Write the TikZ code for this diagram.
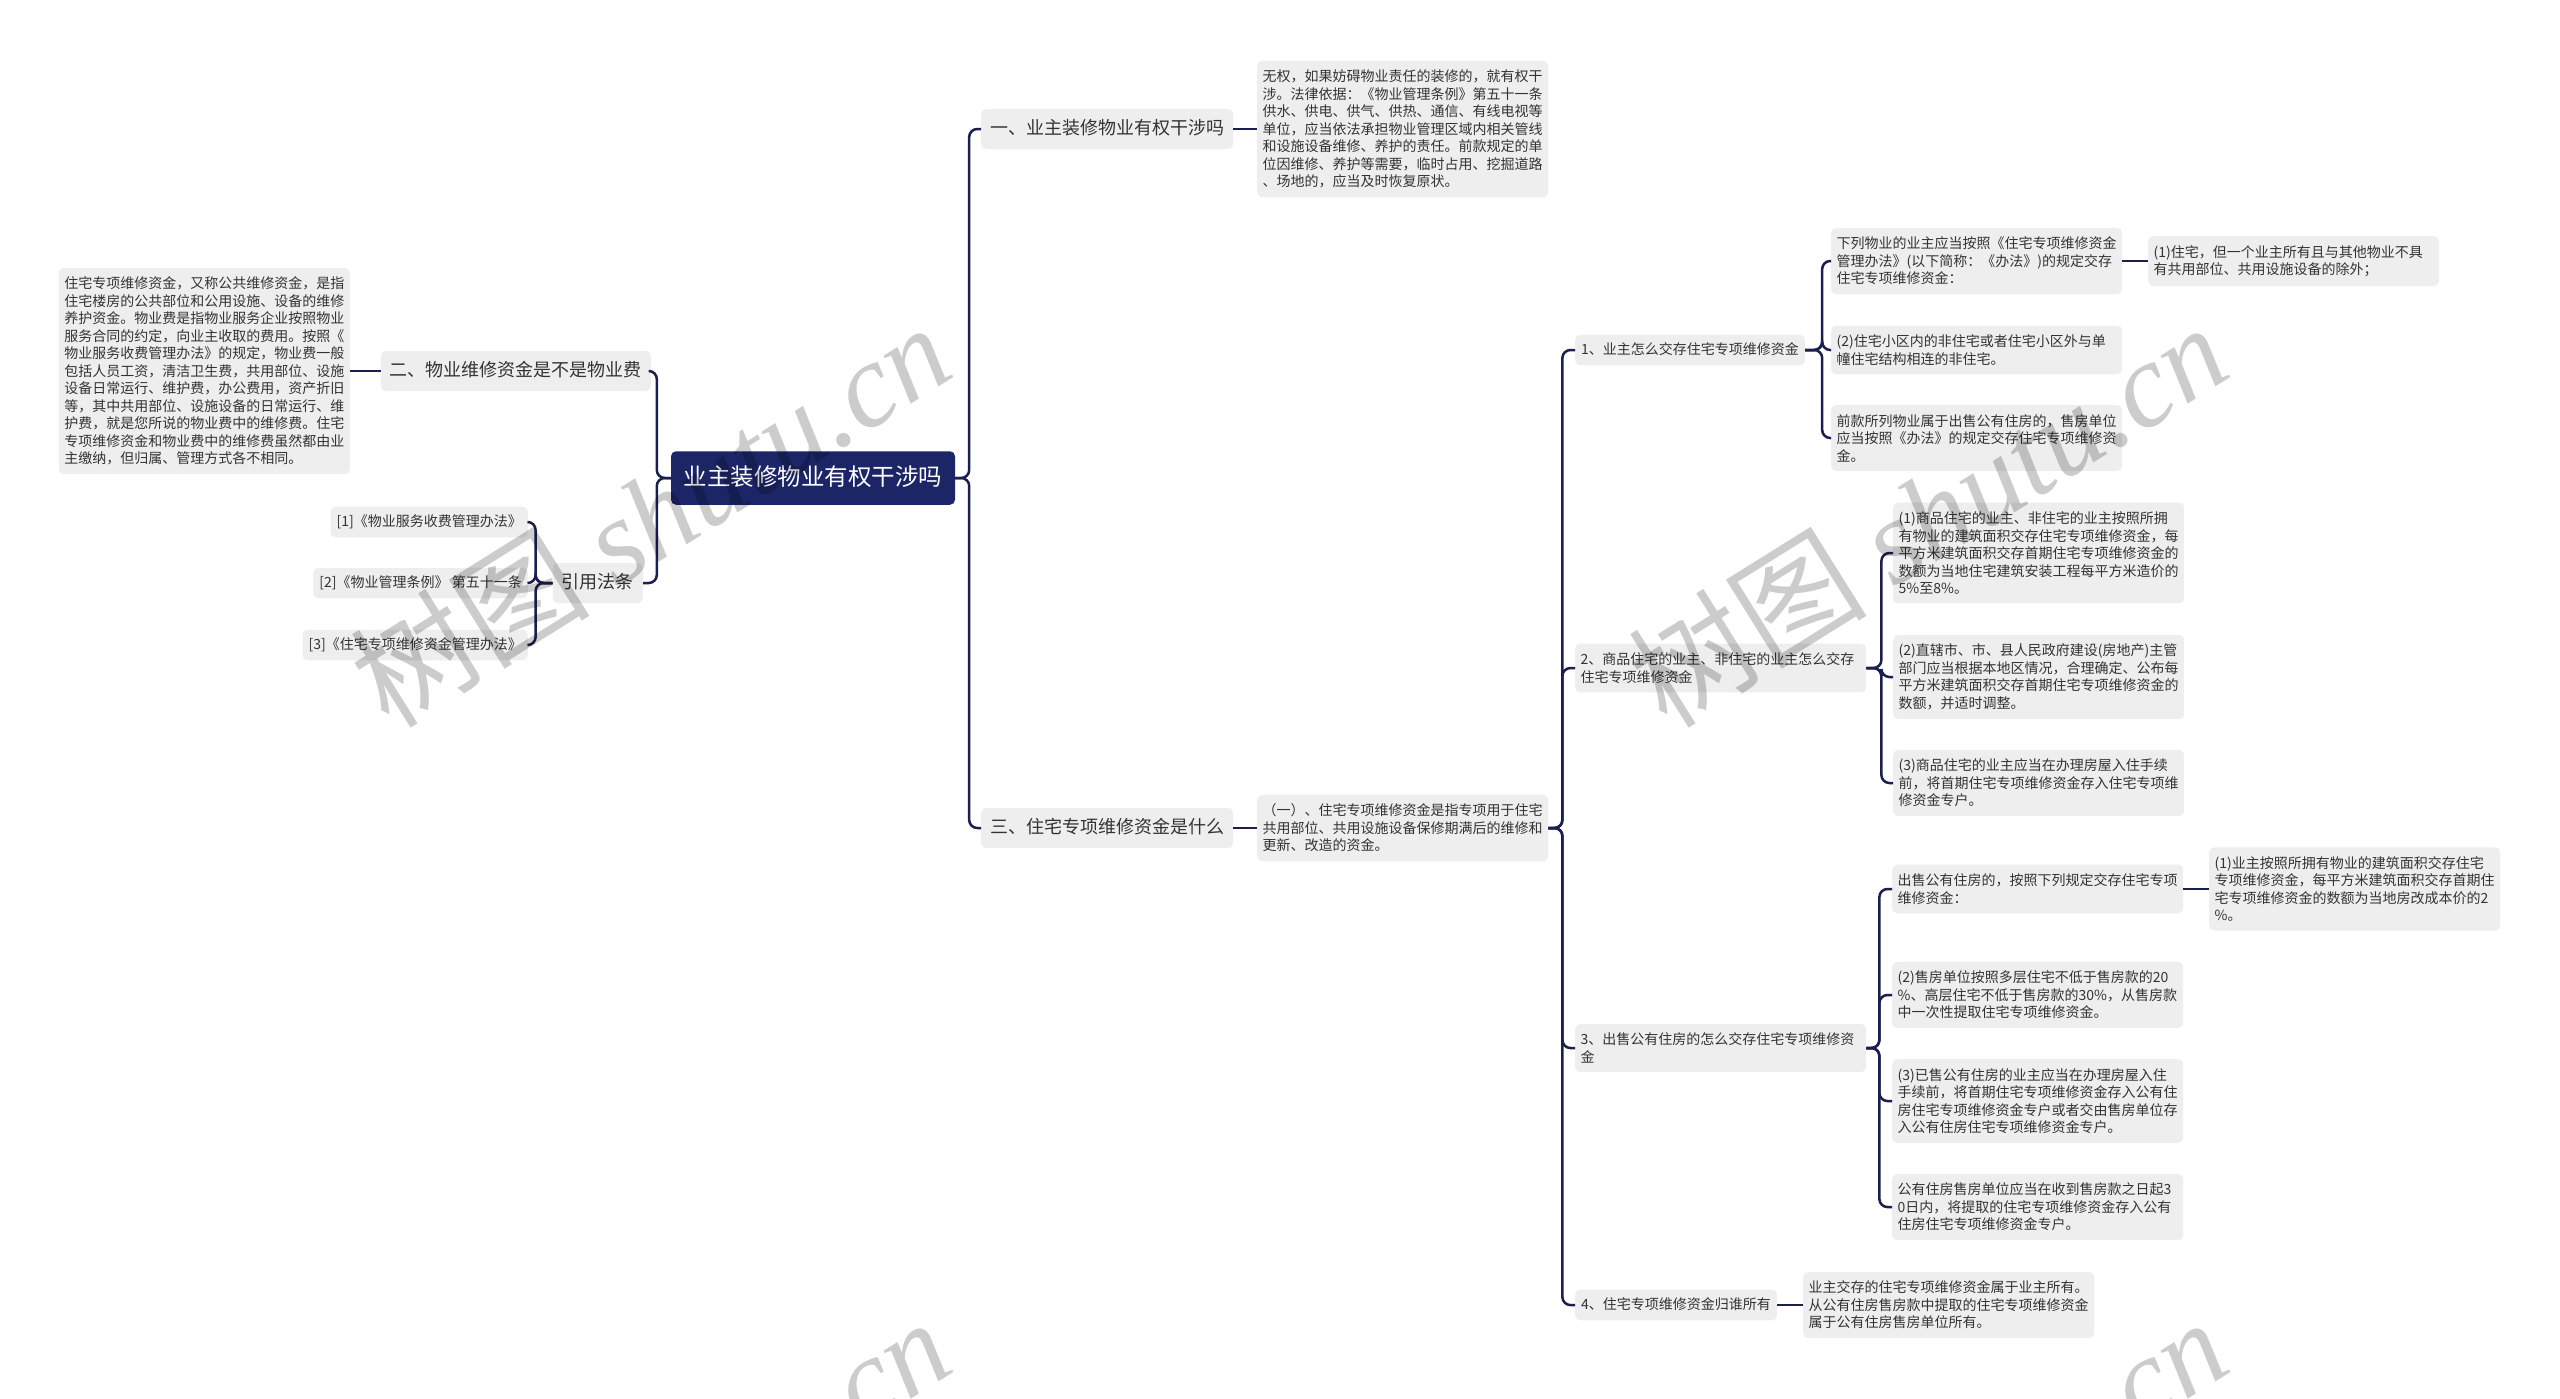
\documentclass[tikz,border=0pt]{standalone}
\usepackage{fontspec}
\setmainfont{Noto Sans CJK SC}
\newfontfamily\wmlatin{Liberation Serif}
\definecolor{linec}{HTML}{1B1F4F}
\definecolor{nodefill}{HTML}{EEEEEE}
\definecolor{txt}{HTML}{333333}
\definecolor{rootfill}{HTML}{1C2566}
\begin{document}
\begin{tikzpicture}[x=1pt,y=-1pt,
  base/.style={fill=nodefill, rounded corners=5pt, text=txt, inner xsep=6pt, inner ysep=8pt, text height=11.5pt, text depth=3pt, font=\fontsize{14}{17.5}\selectfont},
  para/.style={fill=nodefill, rounded corners=5pt, text=txt, inner xsep=5.5pt, inner ysep=9pt, text width=280pt, align=left, font=\fontsize{14}{17.5}\selectfont},
  lvl1/.style={fill=nodefill, rounded corners=5pt, text=txt, inner xsep=9pt, inner ysep=10.5pt, text height=15pt, text depth=4pt, font=\fontsize{18}{22}\selectfont},
  rootn/.style={fill=rootfill, rounded corners=5pt, text=white, inner xsep=12.75pt, inner ysep=14.5pt, text height=19.5pt, text depth=5pt, font=\fontsize{23.5}{29}\selectfont},
  conn/.style={draw=linec, line width=2.5pt, rounded corners=8pt},
  wm/.style={text=black, text opacity=0.2, rotate=32, font=\fontsize{120}{120}\selectfont}
]
\useasboundingbox (0,0) rectangle (2560,1398);
\fill[white] (0,0) rectangle (2560,1398);

% root
\node[rootn] (root) at (813,478) {业主装修物业有权干涉吗};

% level 1
\node[lvl1, anchor=west] (s1) at (981,129) {一、业主装修物业有权干涉吗};
\node[lvl1, anchor=west] (s3) at (981,828) {三、住宅专项维修资金是什么};
\node[lvl1, anchor=east] (s2) at (651,371) {二、物业维修资金是不是物业费};
\node[lvl1, anchor=east] (s4) at (643,583) {引用法条};

% section 1 text
\node[para, anchor=west] (a) at (1257,129) {无权，如果妨碍物业责任的装修的，就有权干\\涉。法律依据：《物业管理条例》第五十一条\\供水、供电、供气、供热、通信、有线电视等\\单位，应当依法承担物业管理区域内相关管线\\和设施设备维修、养护的责任。前款规定的单\\位因维修、养护等需要，临时占用、挖掘道路\\、场地的，应当及时恢复原状。};

% section 2 text
\node[para, anchor=east] (b) at (350,371) {住宅专项维修资金，又称公共维修资金，是指\\住宅楼房的公共部位和公用设施、设备的维修\\养护资金。物业费是指物业服务企业按照物业\\服务合同的约定，向业主收取的费用。按照《\\物业服务收费管理办法》的规定，物业费一般\\包括人员工资，清洁卫生费，共用部位、设施\\设备日常运行、维护费，办公费用，资产折旧\\等，其中共用部位、设施设备的日常运行、维\\护费，就是您所说的物业费中的维修费。住宅\\专项维修资金和物业费中的维修费虽然都由业\\主缴纳，但归属、管理方式各不相同。};

% references
\node[base, anchor=east] (r1) at (528,522) {[1]《物业服务收费管理办法》};
\node[base, anchor=east] (r2) at (528,583) {[2]《物业管理条例》 第五十一条};
\node[base, anchor=east] (r3) at (528,645) {[3]《住宅专项维修资金管理办法》};

% section 3 text
\node[para, anchor=west] (c) at (1257,828) {（一）、住宅专项维修资金是指专项用于住宅\\共用部位、共用设施设备保修期满后的维修和\\更新、改造的资金。};

% level 3
\node[base, anchor=west] (l1) at (1575,350) {1、业主怎么交存住宅专项维修资金};
\node[para, anchor=west] (l1a) at (1831,261) {下列物业的业主应当按照《住宅专项维修资金\\管理办法》(以下简称：《办法》)的规定交存\\住宅专项维修资金：};
\node[para, anchor=west] (l1a1) at (2148,261) {(1)住宅，但一个业主所有且与其他物业不具\\有共用部位、共用设施设备的除外；};
\node[para, anchor=west] (l1b) at (1831,350) {(2)住宅小区内的非住宅或者住宅小区外与单\\幢住宅结构相连的非住宅。};
\node[para, anchor=west] (l1c) at (1831,438) {前款所列物业属于出售公有住房的，售房单位\\应当按照《办法》的规定交存住宅专项维修资\\金。};

\node[para, anchor=west] (l2) at (1575,668) {2、商品住宅的业主、非住宅的业主怎么交存\\住宅专项维修资金};
\node[para, anchor=west] (l2a) at (1893,553) {(1)商品住宅的业主、非住宅的业主按照所拥\\有物业的建筑面积交存住宅专项维修资金，每\\平方米建筑面积交存首期住宅专项维修资金的\\数额为当地住宅建筑安装工程每平方米造价的\\5\%至8\%。};
\node[para, anchor=west] (l2b) at (1893,677) {(2)直辖市、市、县人民政府建设(房地产)主管\\部门应当根据本地区情况，合理确定、公布每\\平方米建筑面积交存首期住宅专项维修资金的\\数额，并适时调整。};
\node[para, anchor=west] (l2c) at (1893,783) {(3)商品住宅的业主应当在办理房屋入住手续\\前，将首期住宅专项维修资金存入住宅专项维\\修资金专户。};

\node[para, anchor=west] (l3) at (1575,1048) {3、出售公有住房的怎么交存住宅专项维修资\\金};
\node[para, anchor=west] (l3a) at (1892,889) {出售公有住房的，按照下列规定交存住宅专项\\维修资金：};
\node[para, anchor=west] (l3a1) at (2209,889) {(1)业主按照所拥有物业的建筑面积交存住宅\\专项维修资金，每平方米建筑面积交存首期住\\宅专项维修资金的数额为当地房改成本价的2\\\%。};
\node[para, anchor=west] (l3b) at (1892,995) {(2)售房单位按照多层住宅不低于售房款的20\\\%、高层住宅不低于售房款的30\%，从售房款\\中一次性提取住宅专项维修资金。};
\node[para, anchor=west] (l3c) at (1892,1101) {(3)已售公有住房的业主应当在办理房屋入住\\手续前，将首期住宅专项维修资金存入公有住\\房住宅专项维修资金专户或者交由售房单位存\\入公有住房住宅专项维修资金专户。};
\node[para, anchor=west] (l3d) at (1892,1207) {公有住房售房单位应当在收到售房款之日起3\\0日内，将提取的住宅专项维修资金存入公有\\住房住宅专项维修资金专户。};

\node[base, anchor=west] (l4) at (1575,1305) {4、住宅专项维修资金归谁所有};
\node[para, anchor=west] (l4a) at (1803,1305) {业主交存的住宅专项维修资金属于业主所有。\\从公有住房售房款中提取的住宅专项维修资金\\属于公有住房售房单位所有。};

% connectors
\draw[conn] (root.east) -- ++(14,0) |- (s1.west);
\draw[conn] (root.east) -- ++(14,0) |- (s3.west);
\draw[conn] (root.west) -- ++(-14,0) |- (s2.east);
\draw[conn] (root.west) -- ++(-14,0) |- (s4.east);
\draw[conn] (s1.east) -- (a.west);
\draw[conn] (s3.east) -- (c.west);
\draw[conn] (s2.west) -- (b.east);
\foreach \r in {r1,r2,r3} \draw[conn] (s4.west) -- ++(-17,0) |- (\r.east);
\foreach \r in {l1,l2,l3,l4} \draw[conn] (c.east) -- ++(14,0) |- (\r.west);
\foreach \r in {l1a,l1b,l1c} \draw[conn] (l1.east) -- ++(17,0) |- (\r.west);
\foreach \r in {l2a,l2b,l2c} \draw[conn] (l2.east) -- ++(15,0) |- (\r.west);
\foreach \r in {l3a,l3b,l3c,l3d} \draw[conn] (l3.east) -- ++(13,0) |- (\r.west);
\draw[conn] (l1a.east) -- (l1a1.west);
\draw[conn] (l3a.east) -- (l3a1.west);
\draw[conn] (l4.east) -- (l4a.west);

% watermarks
\node[wm] (w1) at (650,514) {树图 {\wmlatin\itshape shutu.cn}};
\node[wm] (w2) at (1927,514) {树图 {\wmlatin\itshape shutu.cn}};
\node[wm] (w3) at (650,1509) {树图 {\wmlatin\itshape shutu.cn}};
\node[wm] (w4) at (1927,1509) {树图 {\wmlatin\itshape shutu.cn}};
\end{tikzpicture}
\end{document}
